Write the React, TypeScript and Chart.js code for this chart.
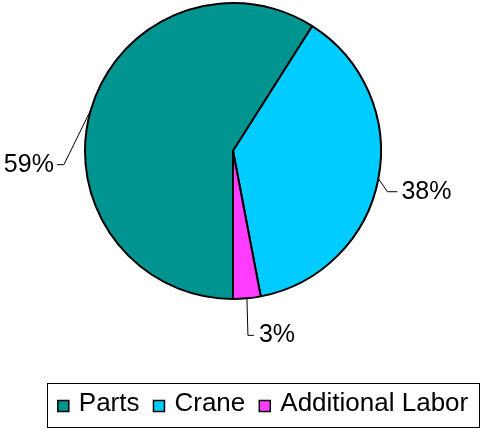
import React, { useEffect, useRef } from "react";
import { Chart, registerables } from "chart.js";

Chart.register(...registerables);

const categories = ["Parts", "Crane", "Additional Labor"];
const values = [59, 38, 3];
const percentLabels = ["59%", "38%", "3%"];
const colors = ["#009490", "#00CCFF", "#FF3CFF"];

const FONT = '25px Arial, "Liberation Sans", sans-serif';
const LEGEND_FONT = '26px Arial, "Liberation Sans", sans-serif';

// leader line geometry (relative to each slice's outer-edge midpoint)
const leaderStyles = [
  { elbow: [-27, 55], tick: -7, gap: 3 },
  { elbow: [9, 13], tick: 10, gap: 4 },
  { elbow: [1, 37], tick: 6, gap: 5 },
];

const leaderPlugin = {
  id: "leaderLabels",
  afterDatasetsDraw(chart: any) {
    const ctx = chart.ctx;
    const meta = chart.getDatasetMeta(0);
    ctx.save();
    ctx.font = FONT;
    ctx.fillStyle = "#000";
    ctx.strokeStyle = "#000";
    ctx.lineWidth = 1;
    meta.data.forEach((arc: any, i: number) => {
      const { x, y, startAngle, endAngle, outerRadius } = arc.getProps(
        ["x", "y", "startAngle", "endAngle", "outerRadius"],
        true
      );
      const mid = (startAngle + endAngle) / 2;
      const ax = x + Math.cos(mid) * outerRadius;
      const ay = y + Math.sin(mid) * outerRadius;
      const st = leaderStyles[i];
      const ex = ax + st.elbow[0];
      const ey = ay + st.elbow[1];
      const tx = ex + st.tick;
      ctx.beginPath();
      ctx.moveTo(ax, ay);
      ctx.lineTo(ex, ey);
      ctx.lineTo(tx, ey);
      ctx.stroke();
      ctx.textBaseline = "middle";
      if (st.tick < 0) {
        ctx.textAlign = "right";
        ctx.fillText(percentLabels[i], tx - st.gap, ey);
      } else {
        ctx.textAlign = "left";
        ctx.fillText(percentLabels[i], tx + st.gap, ey);
      }
    });
    ctx.restore();
  },
};

const boxLegendPlugin = {
  id: "boxLegend",
  afterDraw(chart: any) {
    const ctx = chart.ctx;
    const o = chart.options.plugins.boxLegend;
    const { left, top, width, height } = o;
    ctx.save();
    ctx.strokeStyle = "#000";
    ctx.lineWidth = 1;
    ctx.strokeRect(left + 0.5, top + 0.5, width, height);
    ctx.font = LEGEND_FONT;
    const mark = 11;
    const markGap = 10;
    const itemGap = 14;
    const widths = categories.map((c) => ctx.measureText(c).width);
    const total =
      widths.reduce((a, b) => a + b, 0) +
      categories.length * (mark + markGap) +
      (categories.length - 1) * itemGap;
    let cx = left + (width - total) / 2;
    const cy = top + height / 2;
    ctx.textBaseline = "middle";
    ctx.textAlign = "left";
    categories.forEach((c, i) => {
      ctx.fillStyle = colors[i];
      ctx.fillRect(cx, cy - mark / 2 + 1, mark, mark);
      ctx.lineWidth = 1.5;
      ctx.strokeRect(cx, cy - mark / 2 + 1, mark, mark);
      cx += mark + markGap;
      ctx.fillStyle = "#000";
      ctx.fillText(c, cx, cy - 1);
      cx += widths[i] + itemGap;
    });
    ctx.restore();
  },
};

export default function App() {
  const ref = useRef<HTMLCanvasElement>(null);
  useEffect(() => {
    if (!ref.current) return;
    const chart = new Chart(ref.current, {
      type: "pie",
      data: {
        labels: categories,
        datasets: [
          {
            data: values,
            backgroundColor: colors,
            borderColor: "#000",
            borderWidth: 2,
          },
        ],
      },
      options: {
        responsive: false,
        animation: false,
        rotation: 180,
        radius: 148,
        layout: { padding: { left: 0, right: 14, top: 0, bottom: 129 } },
        plugins: {
          legend: { display: false },
          tooltip: { enabled: false },
          boxLegend: { left: 47, top: 383, width: 432, height: 44 },
        } as any,
      },
      plugins: [leaderPlugin, boxLegendPlugin],
    });
    return () => chart.destroy();
  }, []);
  return (
    <div style={{ position: "fixed", left: 0, top: 0, width: 480, height: 431, background: "#fff" }}>
      <canvas ref={ref} width={480} height={431} style={{ display: "block" }} />
    </div>
  );
}
